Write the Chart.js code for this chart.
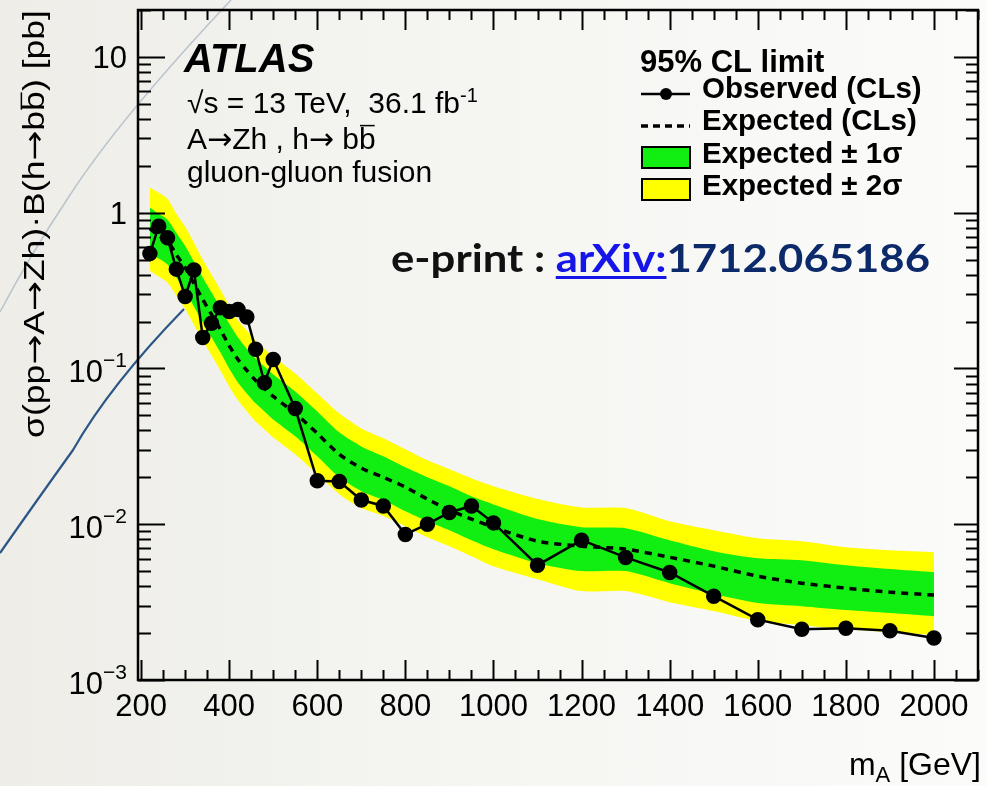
<!DOCTYPE html>
<html>
<head>
<meta charset="utf-8">
<script src="https://cdn.jsdelivr.net/npm/chart.js@4.4.1/dist/chart.umd.min.js"></script>
<style>
  html, body { margin: 0; padding: 0; }
  body {
    width: 987px; height: 786px; overflow: hidden;
    background: linear-gradient(to right, #eeede8 0%, #f4f4f0 40%, #fbfbfa 100%);
  }
  #wrap { position: relative; width: 987px; height: 786px; }
</style>
</head>
<body>
<div id="wrap"><canvas id="limits" width="987" height="786"></canvas></div>
<script>
// mass points (GeV), shared by observed and expected curves
const massPoints = [220, 240, 260, 280, 300, 320, 340, 360, 380, 400, 420, 440, 460, 480, 500,
  550, 600, 650, 700, 750, 800, 850, 900, 950, 1000, 1100, 1200, 1300, 1400, 1500,
  1600, 1700, 1800, 1900, 2000];

// 95% CL limits [pb]
const observed = [0.546, 0.819, 0.689, 0.434, 0.290, 0.428, 0.158, 0.195, 0.245, 0.232, 0.239, 0.214, 0.133, 0.081, 0.114,
  0.0553, 0.0190, 0.0188, 0.0143, 0.0131, 0.0086, 0.0100, 0.0119, 0.0131, 0.0102, 0.00546, 0.0079, 0.00612, 0.0049, 0.00345,
  0.00244, 0.00212, 0.00215, 0.00207, 0.00186];
const expected = [0.790, 0.712, 0.661, 0.538, 0.444, 0.351, 0.277, 0.222, 0.178, 0.140, 0.114, 0.0971, 0.0838, 0.0744, 0.0661,
  0.0515, 0.0383, 0.0281, 0.0229, 0.0200, 0.0173, 0.0145, 0.0123, 0.0108, 0.00957, 0.00778, 0.00723, 0.00692, 0.00614, 0.00538,
  0.00464, 0.00418, 0.00389, 0.00366, 0.00351];
const plus1s = [1.077, 0.985, 0.902, 0.744, 0.614, 0.485, 0.383, 0.307, 0.246, 0.194, 0.158, 0.134, 0.116, 0.103, 0.0915,
  0.0712, 0.0530, 0.0389, 0.0316, 0.0273, 0.0232, 0.0200, 0.0175, 0.0151, 0.0134, 0.0108, 0.00957, 0.00943, 0.00789, 0.00671,
  0.00605, 0.00588, 0.00546, 0.00515, 0.00492];
const minus1s = [0.546, 0.507, 0.464, 0.383, 0.316, 0.250, 0.197, 0.158, 0.127, 0.100, 0.0813, 0.0691, 0.0597, 0.0530, 0.0471,
  0.0367, 0.0273, 0.0200, 0.0163, 0.0143, 0.0121, 0.01045, 0.00915, 0.00789, 0.00691, 0.00562, 0.00500, 0.00500, 0.00418, 0.00356,
  0.00312, 0.00298, 0.00281, 0.00269, 0.00257];
const plus2s = [1.446, 1.343, 1.229, 0.985, 0.814, 0.642, 0.500, 0.400, 0.321, 0.253, 0.203, 0.175, 0.151, 0.134, 0.119,
  0.0929, 0.0691, 0.0515, 0.0412, 0.0356, 0.0303, 0.0257, 0.0225, 0.0197, 0.0175, 0.0145, 0.0128, 0.0127, 0.01045, 0.00915,
  0.00813, 0.00778, 0.00712, 0.00681, 0.00662];
const minus2s = [0.425, 0.389, 0.356, 0.294, 0.242, 0.191, 0.151, 0.121, 0.0971, 0.0767, 0.0624, 0.0530, 0.0457, 0.0406, 0.0361,
  0.0281, 0.0209, 0.0156, 0.0127, 0.0113, 0.00971, 0.00825, 0.00723, 0.00624, 0.00538, 0.00444, 0.00372, 0.00372, 0.00316, 0.00277,
  0.00239, 0.00225, 0.00212, 0.00203, 0.00194];

const xTicks = [200, 400, 600, 800, 1000, 1200, 1400, 1600, 1800, 2000];
const yTicks = [0.001, 0.01, 0.1, 1, 10];

const FONT = '"Liberation Sans", Arial, sans-serif';
const ARROW = '"DejaVu Sans", sans-serif';

function pairs(xs, ys) {
  return xs.map((x, i) => { return { x: x, y: ys[i] } });
}

function bandLine(values, color, fill) {
  return {
    data: pairs(massPoints, values),
    borderWidth: 0,
    borderColor: 'rgba(0,0,0,0)',
    backgroundColor: color,
    pointRadius: 0,
    fill: fill,
    tension: 0.25
  };
}

// text with arrows taken from DejaVu (longer, like the ROOT arrows)
// runs: [text, opts] where opts may have sup / sub / bar
function runWidth(ctx, runs, size) {
  let w = 0;
  runs.forEach(r => {
    const s = r.sup || r.sub ? Math.round(size * 0.68) : size;
    ctx.font = s + 'px ' + (r.arrow ? ARROW : FONT);
    w += ctx.measureText(r.t).width;
  });
  return w;
}

function drawRuns(ctx, runs, x, y, size) {
  let cx = x;
  runs.forEach(r => {
    const s = r.sup || r.sub ? Math.round(size * 0.68) : size;
    ctx.font = s + 'px ' + (r.arrow ? ARROW : FONT);
    let dy = 0;
    if (r.sup) dy = -size * 0.38;
    if (r.sub) dy = size * 0.22;
    ctx.fillText(r.t, cx, y + dy);
    const w = ctx.measureText(r.t).width;
    if (r.bar) {
      ctx.save();
      ctx.lineWidth = 1.5;
      ctx.beginPath();
      ctx.moveTo(cx + 1, y - size * 0.78); ctx.lineTo(cx + w - 1, y - size * 0.78);
      ctx.stroke();
      ctx.restore();
    }
    cx += w;
  });
  return cx - x;
}

function txt(t) { return { t: t } }
function arr() { return { t: '\u2192', arrow: true } }

// slide decoration lines behind the figure
const slideLines = {
  id: 'slideLines',
  beforeDraw(chart) {
    const ctx = chart.ctx;
    ctx.save();
    ctx.strokeStyle = '#b9c4cc';
    ctx.lineWidth = 1.5;
    ctx.beginPath();
    ctx.moveTo(231, 0);
    ctx.quadraticCurveTo(120, 118, 70, 195);
    ctx.quadraticCurveTo(30, 255, 0, 312);
    ctx.stroke();
    ctx.strokeStyle = '#2b5686';
    ctx.lineWidth = 2.2;
    ctx.beginPath();
    ctx.moveTo(184, 309);
    ctx.quadraticCurveTo(110, 385, 73, 450);
    ctx.quadraticCurveTo(35, 503, 0, 553);
    ctx.stroke();
    ctx.restore();
  }
};

const frameAndText = {
  id: 'frameAndText',
  afterDraw(chart) {
    const ctx = chart.ctx;
    const a = chart.chartArea;
    const xs = chart.scales.x, ys = chart.scales.y;
    ctx.save();
    ctx.strokeStyle = '#000';
    ctx.fillStyle = '#000';

    // ticks inside the frame
    ctx.lineWidth = 2;
    ctx.beginPath();
    for (let m = 200; m <= 2100; m += 50) {
      const px = Math.round(xs.getPixelForValue(m)) + 0.5;
      const len = (m % 200 === 0) ? 20 : 10;
      ctx.moveTo(px, a.bottom); ctx.lineTo(px, a.bottom - len);
      ctx.moveTo(px, a.top); ctx.lineTo(px, a.top + len);
    }
    for (let e = -3; e <= 1; e++) {
      for (let k = 1; k <= 9; k++) {
        const v = k * Math.pow(10, e);
        if (v > ys.max) break;
        const py = Math.round(ys.getPixelForValue(v)) + 0.5;
        const len = k === 1 ? 27 : 13;
        ctx.moveTo(a.left, py); ctx.lineTo(a.left + len, py);
        ctx.moveTo(a.right, py); ctx.lineTo(a.right - (k === 1 ? 24 : 12), py);
      }
    }
    ctx.stroke();

    // frame
    ctx.lineWidth = 2.5;
    ctx.strokeRect(a.left, a.top, a.right - a.left, a.bottom - a.top);

    // y tick labels
    ctx.textBaseline = 'middle';
    ctx.textAlign = 'left';
    yTicks.forEach(v => {
      const py = ys.getPixelForValue(v) + 3;
      const e = Math.round(Math.log10(v));
      let runs;
      if (e === 0) runs = [txt('1')];
      else if (e === 1) runs = [txt('10')];
      else runs = [txt('10'), { t: '\u2212' + (-e), sup: true }];
      const w = runWidth(ctx, runs, 31);
      drawRuns(ctx, runs, 127 - w, py + (e < 0 ? 2 : 0), 31);
    });

    // x axis title
    ctx.textBaseline = 'alphabetic';
    const xt = [txt('m'), { t: 'A', sub: true }, txt(' [GeV]')];
    const wxt = runWidth(ctx, xt, 32);
    drawRuns(ctx, xt, 981 - wxt, 775, 32);

    // y axis title, stretched along the axis to its length in the figure
    const yt = [txt('\u03c3(pp'), arr(), txt('A'), arr(), txt('Zh)\u00b7B(h'), arr(), txt('b'), { t: 'b', bar: true }, txt(') [pb]')];
    ctx.save();
    ctx.translate(22, 438);
    ctx.rotate(-Math.PI / 2);
    const wyt = runWidth(ctx, yt, 29);
    ctx.scale(428 / wyt, 1);
    drawRuns(ctx, yt, 0, 22, 29);
    ctx.restore();

    // ATLAS labels
    ctx.font = 'italic bold 40px ' + FONT;
    ctx.fillText('ATLAS', 184, 72);
    drawRuns(ctx, [txt('\u221as = 13 TeV,  36.1 fb'), { t: '-1', sup: true }], 187, 113, 30);
    drawRuns(ctx, [txt('A'), arr(), txt('Zh , h'), arr(), txt(' b'), { t: 'b', bar: true }], 187, 149, 30);
    drawRuns(ctx, [txt('gluon-gluon fusion')], 187, 182, 30);

    // legend
    ctx.font = 'bold 31px ' + FONT;
    ctx.fillText('95% CL limit', 640, 72);
    ctx.font = 'bold 29.5px ' + FONT;
    ctx.fillText('Observed (CLs)', 702, 98);
    ctx.fillText('Expected (CLs)', 702, 130);
    ctx.fillText('Expected \u00b1 1\u03c3', 702, 163);
    ctx.fillText('Expected \u00b1 2\u03c3', 702, 195);
    ctx.lineWidth = 2.5;
    ctx.beginPath(); ctx.moveTo(641, 94); ctx.lineTo(690, 94); ctx.stroke();
    ctx.beginPath(); ctx.arc(666, 94, 6, 0, Math.PI * 2); ctx.fill();
    ctx.lineWidth = 3.5;
    ctx.setLineDash([7, 5]);
    ctx.beginPath(); ctx.moveTo(641, 126); ctx.lineTo(690, 126); ctx.stroke();
    ctx.setLineDash([]);
    ctx.lineWidth = 2;
    ctx.fillStyle = '#11ee11';
    ctx.fillRect(642, 147, 48, 21);
    ctx.strokeRect(642, 147, 48, 21);
    ctx.fillStyle = '#ffff00';
    ctx.fillRect(642, 179, 48, 21);
    ctx.strokeRect(642, 179, 48, 21);

    // e-print reference, stretched to its width in the figure
    const epFont = 'bold 39px Lato, "Open Sans", sans-serif';
    ctx.font = epFont;
    const ep = 'e-print : ', ax = 'arXiv:', num = '1712.065186';
    const wep = ctx.measureText(ep).width, wax = ctx.measureText(ax).width, wnum = ctx.measureText(num).width;
    ctx.save();
    ctx.translate(391, 272);
    ctx.scale(539 / (wep + wax + wnum), 1);
    ctx.fillStyle = '#111';
    ctx.fillText(ep, 0, 0);
    ctx.fillStyle = '#1515e8';
    ctx.fillText(ax, wep, 0);
    ctx.fillRect(wep, 4, wax, 3);
    ctx.fillStyle = '#0c2a6a';
    ctx.fillText(num, wep + wax, 0);
    ctx.restore();

    ctx.restore();
  }
};

const ctx = document.getElementById('limits').getContext('2d');
new Chart(ctx, {
  type: 'line',
  data: {
    datasets: [
      {
        label: 'Observed (CLs)',
        data: pairs(massPoints, observed),
        borderColor: '#000',
        backgroundColor: '#000',
        borderWidth: 2.5,
        pointRadius: 6.5,
        pointHoverRadius: 6.5,
        tension: 0,
        fill: false
      },
      {
        label: 'Expected (CLs)',
        data: pairs(massPoints, expected),
        borderColor: '#000',
        borderWidth: 3.5,
        borderDash: [7, 6],
        pointRadius: 0,
        tension: 0.25,
        fill: false
      },
      Object.assign({ label: 'Expected \u00b1 1\u03c3' }, bandLine(plus1s, '#11ee11', '+1')),
      Object.assign({ label: '-1 sigma' }, bandLine(minus1s, '#11ee11', false)),
      Object.assign({ label: 'Expected \u00b1 2\u03c3' }, bandLine(plus2s, '#ffff00', '+1')),
      Object.assign({ label: '-2 sigma' }, bandLine(minus2s, '#ffff00', false))
    ]
  },
  options: {
    responsive: false,
    animation: false,
    layout: { padding: { top: 10, right: 5, left: 0, bottom: 0 } },
    plugins: { legend: { display: false }, tooltip: { enabled: false } },
    scales: {
      x: {
        type: 'linear',
        min: 193,
        max: 2100,
        grid: { display: false, drawTicks: false },
        border: { display: false },
        afterBuildTicks: s => { s.ticks = xTicks.map(v => { return { value: v } }) },
        afterFit: s => { s.height = 106 },
        ticks: {
          padding: 9,
          maxRotation: 0,
          autoSkip: false,
          color: '#000',
          font: { family: FONT, size: 31 },
          callback: v => String(v)
        }
      },
      y: {
        type: 'logarithmic',
        min: 0.001,
        max: 20,
        grid: { display: false, drawTicks: false },
        border: { display: false },
        afterBuildTicks: s => { s.ticks = yTicks.map(v => { return { value: v } }) },
        afterFit: s => { s.width = 138 },
        ticks: { display: false }
      }
    }
  },
  plugins: [slideLines, frameAndText]
});
</script>
</body>
</html>
